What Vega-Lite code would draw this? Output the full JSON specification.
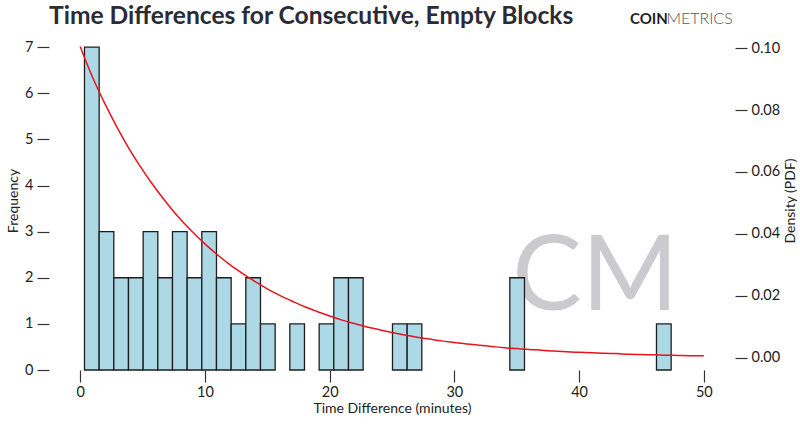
{
  "$schema": "https://vega.github.io/schema/vega-lite/v6.json",
  "width": 686,
  "height": 339,
  "autosize": {"type": "none"},
  "padding": {"left": 49, "top": 31, "right": 65, "bottom": 54},
  "background": "white",
  "config": {
    "view": {"stroke": null},
    "font": "Lato",
    "axis": {"grid": false, "domain": false, "tickSize": 12, "tickWidth": 1.2, "tickColor": "#333333", "labelFont": "Lato", "labelFontSize": 14.5, "labelColor": "#222222", "titleFont": "Lato", "titleFontSize": 14, "titleFontWeight": "normal", "titleColor": "#222222"}
  },
  "datasets": {
    "bins": [
      {"bin_start": 0.345, "bin_end": 1.521, "count": 7},
      {"bin_start": 1.521, "bin_end": 2.697, "count": 3},
      {"bin_start": 2.697, "bin_end": 3.873, "count": 2},
      {"bin_start": 3.873, "bin_end": 5.049, "count": 2},
      {"bin_start": 5.049, "bin_end": 6.224, "count": 3},
      {"bin_start": 6.224, "bin_end": 7.400, "count": 2},
      {"bin_start": 7.400, "bin_end": 8.576, "count": 3},
      {"bin_start": 8.576, "bin_end": 9.752, "count": 2},
      {"bin_start": 9.752, "bin_end": 10.928, "count": 3},
      {"bin_start": 10.928, "bin_end": 12.104, "count": 2},
      {"bin_start": 12.104, "bin_end": 13.280, "count": 1},
      {"bin_start": 13.280, "bin_end": 14.456, "count": 2},
      {"bin_start": 14.456, "bin_end": 15.632, "count": 1},
      {"bin_start": 16.808, "bin_end": 17.983, "count": 1},
      {"bin_start": 19.159, "bin_end": 20.335, "count": 1},
      {"bin_start": 20.335, "bin_end": 21.511, "count": 2},
      {"bin_start": 21.511, "bin_end": 22.687, "count": 2},
      {"bin_start": 25.039, "bin_end": 26.215, "count": 1},
      {"bin_start": 26.215, "bin_end": 27.391, "count": 1},
      {"bin_start": 34.446, "bin_end": 35.622, "count": 2},
      {"bin_start": 46.205, "bin_end": 47.381, "count": 1}
    ],
    "pdf": [
      {"minutes": 0, "density": 0.1005}, {"minutes": 1, "density": 0.0905}, {"minutes": 2, "density": 0.0819}, {"minutes": 3, "density": 0.0741},
      {"minutes": 4, "density": 0.0670}, {"minutes": 5, "density": 0.0607}, {"minutes": 6, "density": 0.0549}, {"minutes": 7, "density": 0.0497},
      {"minutes": 8, "density": 0.0449}, {"minutes": 9, "density": 0.0407}, {"minutes": 10, "density": 0.0368}, {"minutes": 11, "density": 0.0333},
      {"minutes": 12, "density": 0.0301}, {"minutes": 13, "density": 0.0273}, {"minutes": 14, "density": 0.0247}, {"minutes": 15, "density": 0.0223},
      {"minutes": 16, "density": 0.0202}, {"minutes": 17, "density": 0.0183}, {"minutes": 18, "density": 0.0165}, {"minutes": 19, "density": 0.0150},
      {"minutes": 20, "density": 0.0135}, {"minutes": 21, "density": 0.0122}, {"minutes": 22, "density": 0.0111}, {"minutes": 23, "density": 0.0100},
      {"minutes": 24, "density": 0.0091}, {"minutes": 25, "density": 0.0082}, {"minutes": 26, "density": 0.0074}, {"minutes": 27, "density": 0.0067},
      {"minutes": 28, "density": 0.0061}, {"minutes": 29, "density": 0.0055}, {"minutes": 30, "density": 0.0050}, {"minutes": 31, "density": 0.0045},
      {"minutes": 32, "density": 0.0041}, {"minutes": 33, "density": 0.0037}, {"minutes": 34, "density": 0.0033}, {"minutes": 35, "density": 0.0030},
      {"minutes": 36, "density": 0.0027}, {"minutes": 37, "density": 0.0025}, {"minutes": 38, "density": 0.0022}, {"minutes": 39, "density": 0.0020},
      {"minutes": 40, "density": 0.0018}, {"minutes": 41, "density": 0.0017}, {"minutes": 42, "density": 0.0015}, {"minutes": 43, "density": 0.0014},
      {"minutes": 44, "density": 0.0012}, {"minutes": 45, "density": 0.0011}, {"minutes": 46, "density": 0.0010}, {"minutes": 47, "density": 0.0009},
      {"minutes": 48, "density": 0.0008}, {"minutes": 49, "density": 0.0007}, {"minutes": 50, "density": 0.0007}
    ]
  },
  "layer": [
    {
      "layer": [
        {
          "data": {"values": [{"label": "CM"}]},
          "mark": {"type": "text", "font": "Lato", "fontSize": 104, "fontWeight": "normal", "color": "#cbcbcf", "align": "center", "baseline": "alphabetic"},
          "encoding": {
            "text": {"field": "label"},
            "x": {"datum": 41.3, "type": "quantitative", "scale": {"domain": [-2.5, 52.5], "nice": false}},
            "y": {"datum": 1.3, "type": "quantitative", "scale": {"domain": [0, 7.35], "nice": false}}
          }
        },
        {
          "data": {"name": "bins"},
          "mark": {"type": "rect", "fill": "#add8e6", "stroke": "#1e1e1e", "strokeWidth": 1.3},
          "encoding": {
            "x": {"field": "bin_start", "type": "quantitative", "scale": {"domain": [-2.5, 52.5], "nice": false}, "axis": {"orient": "bottom", "values": [0, 10, 20, 30, 40, 50], "labelPadding": 3, "title": "Time Difference (minutes)", "titlePadding": 3}},
            "x2": {"field": "bin_end"},
            "y": {"field": "count", "type": "quantitative", "scale": {"domain": [0, 7.35], "nice": false}, "axis": {"orient": "left", "values": [0, 1, 2, 3, 4, 5, 6, 7], "labelPadding": 4, "title": "Frequency", "titlePadding": 4}},
            "y2": {"datum": 0}
          }
        },
        {
          "data": {"values": [{"label": "Time Differences for Consecutive, Empty Blocks"}]},
          "mark": {"type": "text", "font": "Lato", "fontSize": 24.6, "fontWeight": "bold", "color": "#2b2b35", "align": "left", "baseline": "alphabetic"},
          "encoding": {
            "text": {"field": "label"},
            "x": {"datum": -2.5, "type": "quantitative", "scale": {"domain": [-2.5, 52.5], "nice": false}},
            "y": {"datum": 7.5, "type": "quantitative", "scale": {"domain": [0, 7.35], "nice": false}}
          }
        },
        {
          "data": {"values": [{"label": "COIN"}]},
          "mark": {"type": "text", "font": "Lato", "fontSize": 15, "fontWeight": "bold", "color": "#1f1f2e", "align": "left", "baseline": "alphabetic"},
          "encoding": {
            "text": {"field": "label"},
            "x": {"datum": 44.08, "type": "quantitative", "scale": {"domain": [-2.5, 52.5], "nice": false}},
            "y": {"datum": 7.5, "type": "quantitative", "scale": {"domain": [0, 7.35], "nice": false}}
          }
        },
        {
          "data": {"values": [{"label": "METRICS"}]},
          "mark": {"type": "text", "font": "Lato", "fontSize": 16, "fontWeight": 300, "color": "#555555", "align": "left", "baseline": "alphabetic"},
          "encoding": {
            "text": {"field": "label"},
            "x": {"datum": 47.0, "type": "quantitative", "scale": {"domain": [-2.5, 52.5], "nice": false}},
            "y": {"datum": 7.5, "type": "quantitative", "scale": {"domain": [0, 7.35], "nice": false}}
          }
        }
      ]
    },
    {
      "data": {"name": "pdf"},
      "mark": {"type": "line", "color": "#e8141b", "strokeWidth": 1.5, "interpolate": "monotone"},
      "encoding": {
        "x": {"field": "minutes", "type": "quantitative", "scale": {"domain": [-2.5, 52.5], "nice": false}},
        "y": {"field": "density", "type": "quantitative", "scale": {"domain": [-0.0039, 0.1055], "nice": false}, "axis": {"orient": "right", "values": [0, 0.02, 0.04, 0.06, 0.08, 0.1], "format": ".2f", "labelPadding": 4, "title": "Density (PDF)", "titlePadding": 4, "titleAngle": 270, "titleBaseline": "top"}}
      }
    }
  ],
  "resolve": {"scale": {"y": "independent"}}
}
